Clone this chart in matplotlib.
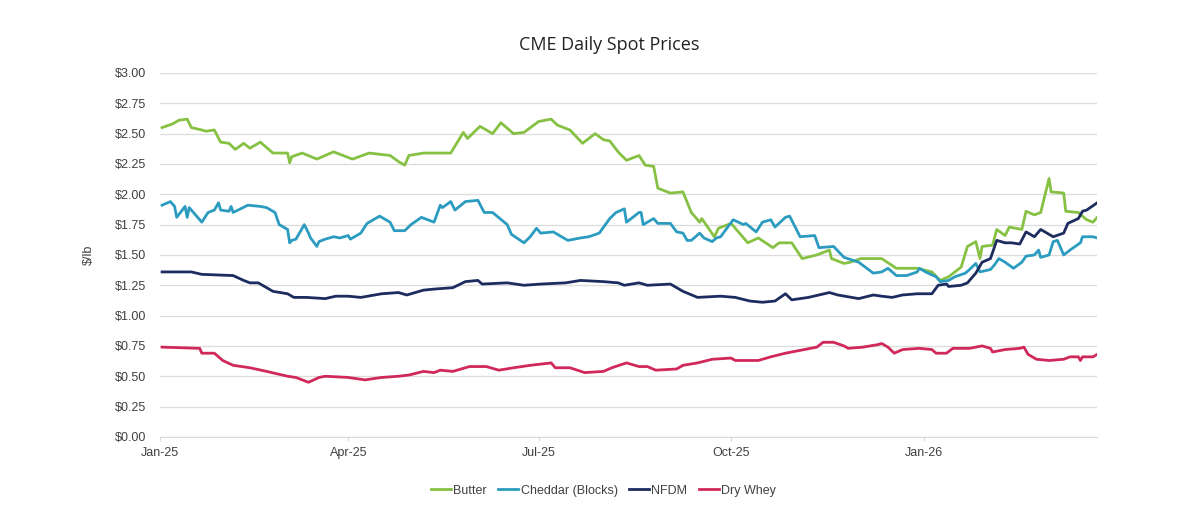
import matplotlib
matplotlib.use("Agg")
import matplotlib.pyplot as plt
import matplotlib.dates as mdates
import pandas as pd

# values ($/lb)
butter_dates = ["2025-01-02", "2025-01-07", "2025-01-10", "2025-01-14", "2025-01-16", "2025-01-21",
                "2025-01-23", "2025-01-27", "2025-01-30", "2025-02-03", "2025-02-06", "2025-02-10",
                "2025-02-13", "2025-02-18", "2025-02-24", "2025-03-03", "2025-03-04", "2025-03-05",
                "2025-03-10", "2025-03-17", "2025-03-25", "2025-04-03", "2025-04-11", "2025-04-21",
                "2025-04-25", "2025-04-28", "2025-04-30", "2025-05-07", "2025-05-20", "2025-05-26",
                "2025-05-28", "2025-06-03", "2025-06-09", "2025-06-13", "2025-06-19", "2025-06-24",
                "2025-07-01", "2025-07-07", "2025-07-10", "2025-07-16", "2025-07-22", "2025-07-28",
                "2025-08-01", "2025-08-04", "2025-08-08", "2025-08-12", "2025-08-18", "2025-08-21",
                "2025-08-25", "2025-08-27", "2025-09-02", "2025-09-08", "2025-09-12", "2025-09-16",
                "2025-09-17", "2025-09-23", "2025-09-25", "2025-10-01", "2025-10-09", "2025-10-14",
                "2025-10-21", "2025-10-24", "2025-10-30", "2025-11-04", "2025-11-11", "2025-11-17",
                "2025-11-18", "2025-11-24", "2025-11-27", "2025-12-02", "2025-12-12", "2025-12-19",
                "2025-12-29", "2026-01-05", "2026-01-09", "2026-01-13", "2026-01-19", "2026-01-22",
                "2026-01-26", "2026-01-28", "2026-01-29", "2026-02-03", "2026-02-05", "2026-02-09",
                "2026-02-11", "2026-02-17", "2026-02-19", "2026-02-23", "2026-02-26", "2026-03-02",
                "2026-03-03", "2026-03-09", "2026-03-10", "2026-03-16", "2026-03-20", "2026-03-23",
                "2026-03-25"]
butter = [2.55, 2.58, 2.61, 2.62, 2.55, 2.53, 2.52, 2.53, 2.43, 2.42, 2.37, 2.42,
          2.38, 2.43, 2.34, 2.34, 2.26, 2.31, 2.34, 2.29, 2.35, 2.29, 2.34, 2.32,
          2.27, 2.24, 2.32, 2.34, 2.34, 2.51, 2.46, 2.56, 2.50, 2.59, 2.50, 2.51,
          2.60, 2.62, 2.57, 2.53, 2.42, 2.50, 2.45, 2.44, 2.35, 2.28, 2.32, 2.24,
          2.23, 2.05, 2.01, 2.02, 1.85, 1.77, 1.80, 1.65, 1.72, 1.76, 1.60, 1.64,
          1.56, 1.60, 1.60, 1.47, 1.50, 1.54, 1.47, 1.43, 1.44, 1.47, 1.47, 1.39,
          1.39, 1.36, 1.29, 1.32, 1.40, 1.57, 1.61, 1.47, 1.57, 1.58, 1.71, 1.66,
          1.73, 1.71, 1.86, 1.83, 1.85, 2.13, 2.02, 2.01, 1.86, 1.85, 1.79, 1.77,
          1.81]

cheddar_dates = ["2025-01-02", "2025-01-06", "2025-01-08", "2025-01-09", "2025-01-13", "2025-01-14",
                 "2025-01-15", "2025-01-21", "2025-01-24", "2025-01-27", "2025-01-29", "2025-01-30",
                 "2025-02-03", "2025-02-04", "2025-02-05", "2025-02-12", "2025-02-18", "2025-02-21",
                 "2025-02-25", "2025-02-27", "2025-03-03", "2025-03-04", "2025-03-05", "2025-03-07",
                 "2025-03-11", "2025-03-13", "2025-03-14", "2025-03-17", "2025-03-18", "2025-03-21",
                 "2025-03-25", "2025-03-28", "2025-04-01", "2025-04-02", "2025-04-07", "2025-04-10",
                 "2025-04-16", "2025-04-21", "2025-04-23", "2025-04-28", "2025-05-01", "2025-05-06",
                 "2025-05-12", "2025-05-15", "2025-05-16", "2025-05-20", "2025-05-22", "2025-05-27",
                 "2025-06-02", "2025-06-05", "2025-06-09", "2025-06-16", "2025-06-18", "2025-06-24",
                 "2025-06-27", "2025-06-30", "2025-07-02", "2025-07-08", "2025-07-10", "2025-07-15",
                 "2025-07-21", "2025-07-25", "2025-07-30", "2025-08-04", "2025-08-07", "2025-08-11",
                 "2025-08-12", "2025-08-18", "2025-08-19", "2025-08-20", "2025-08-25", "2025-08-27",
                 "2025-09-02", "2025-09-05", "2025-09-08", "2025-09-10", "2025-09-12", "2025-09-16",
                 "2025-09-18", "2025-09-22", "2025-09-24", "2025-09-26", "2025-10-02", "2025-10-07",
                 "2025-10-08", "2025-10-13", "2025-10-16", "2025-10-20", "2025-10-22", "2025-10-27",
                 "2025-10-29", "2025-11-03", "2025-11-10", "2025-11-12", "2025-11-19", "2025-11-24",
                 "2025-12-01", "2025-12-08", "2025-12-12", "2025-12-15", "2025-12-19", "2025-12-24",
                 "2025-12-29", "2025-12-30", "2026-01-02", "2026-01-07", "2026-01-09", "2026-01-13",
                 "2026-01-16", "2026-01-21", "2026-01-23", "2026-01-26", "2026-01-28", "2026-02-02",
                 "2026-02-04", "2026-02-06", "2026-02-09", "2026-02-13", "2026-02-17", "2026-02-19",
                 "2026-02-23", "2026-02-25", "2026-02-26", "2026-03-02", "2026-03-04", "2026-03-06",
                 "2026-03-09", "2026-03-12", "2026-03-17", "2026-03-18", "2026-03-23", "2026-03-25"]
cheddar = [1.91, 1.94, 1.90, 1.81, 1.90, 1.81, 1.89, 1.77, 1.85, 1.87, 1.93, 1.87,
           1.86, 1.90, 1.85, 1.91, 1.90, 1.89, 1.85, 1.75, 1.71, 1.60, 1.62, 1.63,
           1.75, 1.68, 1.64, 1.57, 1.61, 1.63, 1.65, 1.64, 1.66, 1.63, 1.68, 1.76,
           1.82, 1.77, 1.70, 1.70, 1.75, 1.81, 1.77, 1.91, 1.89, 1.94, 1.87, 1.94,
           1.95, 1.85, 1.85, 1.75, 1.67, 1.60, 1.65, 1.72, 1.68, 1.69, 1.67, 1.62,
           1.64, 1.65, 1.68, 1.80, 1.85, 1.88, 1.77, 1.85, 1.85, 1.75, 1.80, 1.76,
           1.76, 1.69, 1.68, 1.62, 1.62, 1.68, 1.64, 1.61, 1.64, 1.65, 1.79, 1.75,
           1.76, 1.69, 1.77, 1.79, 1.73, 1.81, 1.82, 1.65, 1.66, 1.56, 1.57, 1.48,
           1.44, 1.35, 1.36, 1.39, 1.33, 1.33, 1.36, 1.39, 1.36, 1.32, 1.28, 1.29,
           1.32, 1.35, 1.38, 1.43, 1.36, 1.38, 1.42, 1.47, 1.44, 1.39, 1.44, 1.49,
           1.50, 1.54, 1.48, 1.50, 1.61, 1.62, 1.50, 1.54, 1.60, 1.65, 1.65, 1.64]

nfdm_dates = ["2025-01-02", "2025-01-16", "2025-01-21", "2025-02-05", "2025-02-10", "2025-02-13",
              "2025-02-17", "2025-02-24", "2025-03-03", "2025-03-06", "2025-03-12", "2025-03-21",
              "2025-03-26", "2025-04-01", "2025-04-07", "2025-04-17", "2025-04-25", "2025-04-29",
              "2025-05-07", "2025-05-13", "2025-05-21", "2025-05-27", "2025-06-02", "2025-06-04",
              "2025-06-16", "2025-06-24", "2025-07-02", "2025-07-14", "2025-07-21", "2025-08-01",
              "2025-08-08", "2025-08-11", "2025-08-18", "2025-08-22", "2025-09-02", "2025-09-08",
              "2025-09-15", "2025-09-26", "2025-10-03", "2025-10-10", "2025-10-16", "2025-10-22",
              "2025-10-27", "2025-10-30", "2025-11-07", "2025-11-17", "2025-11-21", "2025-12-01",
              "2025-12-08", "2025-12-12", "2025-12-17", "2025-12-22", "2025-12-29", "2026-01-05",
              "2026-01-08", "2026-01-12", "2026-01-13", "2026-01-19", "2026-01-22", "2026-01-26",
              "2026-01-27", "2026-01-29", "2026-02-02", "2026-02-05", "2026-02-09", "2026-02-12",
              "2026-02-16", "2026-02-19", "2026-02-23", "2026-02-26", "2026-03-04", "2026-03-09",
              "2026-03-11", "2026-03-16", "2026-03-18", "2026-03-20", "2026-03-25"]
nfdm = [1.36, 1.36, 1.34, 1.33, 1.29, 1.27, 1.27, 1.20, 1.18, 1.15, 1.15, 1.14,
        1.16, 1.16, 1.15, 1.18, 1.19, 1.17, 1.21, 1.22, 1.23, 1.28, 1.29, 1.26,
        1.27, 1.25, 1.26, 1.27, 1.29, 1.28, 1.27, 1.25, 1.27, 1.25, 1.26, 1.20,
        1.15, 1.16, 1.15, 1.12, 1.11, 1.12, 1.18, 1.13, 1.15, 1.19, 1.17, 1.14,
        1.17, 1.16, 1.15, 1.17, 1.18, 1.18, 1.25, 1.26, 1.24, 1.25, 1.27, 1.35,
        1.38, 1.44, 1.47, 1.62, 1.60, 1.60, 1.59, 1.69, 1.65, 1.71, 1.65, 1.68,
        1.76, 1.80, 1.86, 1.87, 1.93]

whey_dates = ["2025-01-02", "2025-01-20", "2025-01-21", "2025-01-27", "2025-01-31", "2025-02-05",
              "2025-02-13", "2025-02-21", "2025-03-03", "2025-03-07", "2025-03-13", "2025-03-18",
              "2025-03-21", "2025-04-01", "2025-04-09", "2025-04-17", "2025-04-25", "2025-04-30",
              "2025-05-07", "2025-05-12", "2025-05-15", "2025-05-21", "2025-05-29", "2025-06-06",
              "2025-06-12", "2025-06-19", "2025-06-27", "2025-07-02", "2025-07-07", "2025-07-09",
              "2025-07-16", "2025-07-23", "2025-08-01", "2025-08-05", "2025-08-12", "2025-08-18",
              "2025-08-22", "2025-08-26", "2025-09-05", "2025-09-08", "2025-09-15", "2025-09-22",
              "2025-10-01", "2025-10-03", "2025-10-14", "2025-10-20", "2025-10-27", "2025-11-05",
              "2025-11-11", "2025-11-14", "2025-11-19", "2025-11-24", "2025-11-26", "2025-12-03",
              "2025-12-10", "2025-12-12", "2025-12-15", "2025-12-18", "2025-12-22", "2025-12-30",
              "2026-01-05", "2026-01-07", "2026-01-12", "2026-01-15", "2026-01-23", "2026-01-29",
              "2026-02-02", "2026-02-03", "2026-02-09", "2026-02-16", "2026-02-18", "2026-02-20",
              "2026-02-24", "2026-03-02", "2026-03-09", "2026-03-12", "2026-03-16", "2026-03-17",
              "2026-03-18", "2026-03-23", "2026-03-25"]
whey = [0.74, 0.73, 0.69, 0.69, 0.63, 0.59, 0.57, 0.54, 0.50, 0.49, 0.45, 0.49,
        0.50, 0.49, 0.47, 0.49, 0.50, 0.51, 0.54, 0.53, 0.55, 0.54, 0.58, 0.58,
        0.55, 0.57, 0.59, 0.60, 0.61, 0.57, 0.57, 0.53, 0.54, 0.57, 0.61, 0.58,
        0.58, 0.55, 0.56, 0.59, 0.61, 0.64, 0.65, 0.63, 0.63, 0.66, 0.69, 0.72,
        0.74, 0.78, 0.78, 0.75, 0.73, 0.74, 0.76, 0.77, 0.74, 0.69, 0.72, 0.73,
        0.72, 0.69, 0.69, 0.73, 0.73, 0.75, 0.73, 0.70, 0.72, 0.73, 0.74, 0.68,
        0.64, 0.63, 0.64, 0.66, 0.66, 0.63, 0.66, 0.66, 0.68]

series = [
    ("Butter", butter_dates, butter, "#86c144"),
    ("Cheddar (Blocks)", cheddar_dates, cheddar, "#2b9cc0"),
    ("NFDM", nfdm_dates, nfdm, "#1c2c5e"),
    ("Dry Whey", whey_dates, whey, "#d0285a"),
]

plt.rcParams['font.family'] = ['Liberation Sans', 'DejaVu Sans']

fig = plt.figure(figsize=(12, 5.14), dpi=100)
ax = fig.add_axes([0.1333, 0.150, 0.781, 0.708])

for name, d, v, c in series:
    ax.plot(pd.to_datetime(d), v, color=c, lw=2.0, label=name, solid_joinstyle='round')

ax.set_ylim(0, 3)
ax.set_yticks([i * 0.25 for i in range(13)])
ax.yaxis.set_major_formatter(matplotlib.ticker.FuncFormatter(lambda v, p: f"${v:.2f}"))
ax.set_xlim(pd.Timestamp("2025-01-01"), pd.Timestamp("2026-03-25"))
ax.xaxis.set_major_locator(mdates.MonthLocator(bymonth=[1, 4, 7, 10]))
ax.xaxis.set_major_formatter(mdates.DateFormatter("%b-%y"))

ax.grid(axis='y', color='#dcdcdc', lw=0.9)
ax.set_axisbelow(True)
for s in ['top', 'right', 'left']:
    ax.spines[s].set_visible(False)
ax.spines['bottom'].set_color('#d9d9d9')
ax.tick_params(axis='y', length=0, labelsize=9, labelcolor='#404040', pad=10)
ax.tick_params(axis='x', length=3, color='#d9d9d9', labelsize=9, labelcolor='#404040', pad=4)
ax.set_ylabel("$/lb", fontsize=9, color='#404040', labelpad=14)

fig.text(0.508, 0.912, "CME Daily Spot Prices", ha='center', va='center',
         fontsize=13, fontweight='medium', color='#222222', family=['Open Sans', 'DejaVu Sans'])

ax.legend(loc='upper center', bbox_to_anchor=(0.473, -0.10), ncol=4, frameon=False,
          fontsize=9, handlelength=1.6, handletextpad=0.2, columnspacing=0.9,
          labelcolor='#404040')

fig.savefig("out.png", dpi=100)
